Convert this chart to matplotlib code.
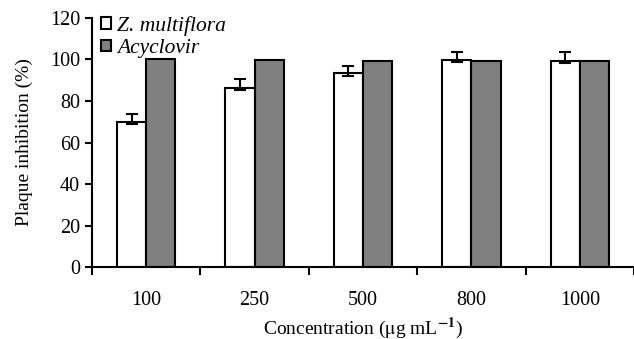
import numpy as np
import matplotlib.pyplot as plt

plt.rcParams['font.family'] = ['Liberation Serif', 'DejaVu Serif']
plt.rcParams['mathtext.fontset'] = 'stix'

concs = ['100', '250', '500', '800', '1000']
zm = [69.9, 86.4, 93.6, 99.8, 99.4]
zm_err_low = [0.9, 1.1, 1.6, 1.0, 1.0]
zm_err_high = [3.8, 4.2, 3.4, 4.0, 4.0]
acy = [100.1, 99.6, 99.5, 99.3, 99.3]

fig = plt.figure(figsize=(6.34, 3.39), dpi=100)
ax = fig.add_axes([0.145, 0.212, 0.855, 0.735])

x = np.arange(len(concs))
w = 0.27
ax.bar(x - w / 2, zm, w, color='white', edgecolor='black', linewidth=1.5,
       label='Z. multiflora', zorder=2)
ax.errorbar(x - w / 2, zm, yerr=[zm_err_low, zm_err_high], fmt='none',
            ecolor='black', elinewidth=1.5, capsize=4, capthick=1.5, zorder=3)
ax.bar(x + w / 2, acy, w, color='#808080', edgecolor='black', linewidth=1.5,
       label='Acyclovir', zorder=2)

ax.set_xlim(-0.5, 4.43)
ax.set_ylim(0, 120)
ax.set_yticks(range(0, 121, 20))
ax.set_xticks(np.arange(-0.5, 4.6, 1.0))
ax.set_xticklabels([])
ax.set_xticks(x, minor=True)
ax.set_xticklabels(concs, minor=True)
ax.tick_params(axis='x', which='major', length=6, width=1.5, direction='out')
ax.tick_params(axis='x', which='minor', length=0, pad=17, labelsize=14.5)
ax.tick_params(axis='y', length=5, width=1.5, direction='out', labelsize=14.5)

for s in ['top', 'right']:
    ax.spines[s].set_visible(False)
for s in ['left', 'bottom']:
    ax.spines[s].set_linewidth(1.5)

ax.set_ylabel('Plaque inhibition (%)', fontsize=14, labelpad=12)
ax.set_xlabel(r'Concentration ($\mathrm{\mu}$g mL$^{\mathbf{-1}}$)', fontsize=14, labelpad=4)

leg = ax.legend(loc='upper left', bbox_to_anchor=(-0.007, 1.06), frameon=False,
                prop={'style': 'italic', 'size': 15.5}, handlelength=0.45,
                handleheight=0.45, handletextpad=0.3, labelspacing=0.15,
                borderaxespad=0.2)

fig.savefig('out.png', dpi=100)
